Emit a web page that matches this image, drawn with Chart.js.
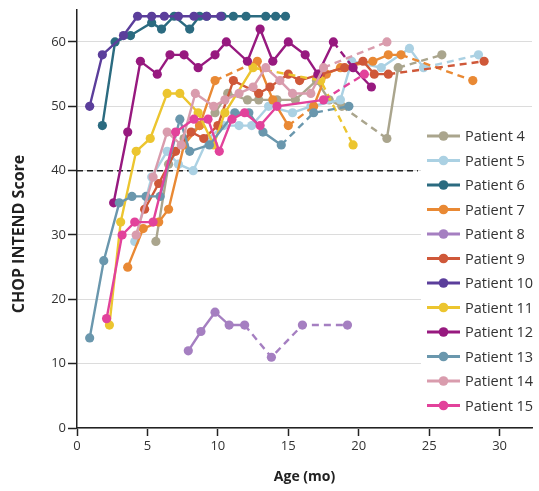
<!DOCTYPE html>
<html>
<head>
<meta charset="utf-8">
<script src="https://cdn.jsdelivr.net/npm/chart.js@4.4.1/dist/chart.umd.min.js"></script>
<style>
  html, body { margin: 0; padding: 0; background: #fff; }
</style>
</head>
<body>
<canvas id="grafico" width="539" height="491"></canvas>
<script>
// ages (months) and CHOP INTEND scores
const p4Age = [5.6, 6.5, 7.6, 8.7, 9.8, 10.7, 12.1, 12.9, 14.2, 15.5, 17.0, 17.9, 18.8, 22.0, 22.8, 25.9];
const p4Score = [29, 41, 45, 47, 49, 52, 51, 51, 51, 51, 54, 51, 50, 45, 56, 58];
const p4Dashed = [12, 14];

const p5Age = [4.1, 5.3, 6.4, 7.2, 8.25, 9.3, 10.4, 11.5, 12.4, 13.6, 15.3, 16.6, 18.7, 19.5, 21.6, 23.6, 24.6, 28.5];
const p5Score = [29, 39, 43, 41, 40, 45, 47, 47, 47, 50, 49, 50, 51, 57, 56, 59, 56, 58];
const p5Dashed = [16];

const p6Age = [1.8, 2.7, 3.8, 5.3, 6.0, 6.9, 8.0, 8.7, 9.2, 10.3, 11.1, 12.0, 13.4, 14.1, 14.8];
const p6Score = [47, 60, 61, 63, 62, 64, 62, 64, 64, 64, 64, 64, 64, 64, 64];
const p6Dashed = [];

const p7Age = [3.6, 4.7, 5.8, 6.5, 7.6, 8.7, 9.8, 12.8, 13.9, 15.0, 16.8, 17.7, 18.7, 21.0, 22.1, 23.0, 28.1];
const p7Score = [25, 31, 32, 34, 44, 47, 54, 57, 51, 47, 50, 55, 56, 57, 58, 58, 54];
const p7Dashed = [6, 9, 15];

const p8Age = [7.9, 8.8, 9.8, 10.8, 11.9, 13.8, 16.0, 19.2];
const p8Score = [12, 15, 18, 16, 16, 11, 16, 16];
const p8Dashed = [4, 5, 6];

const p9Age = [4.8, 5.8, 7.0, 8.1, 9.0, 10.0, 11.1, 12.9, 13.7, 15.0, 15.8, 17.3, 19.0, 20.3, 21.1, 22.1, 28.9];
const p9Score = [34, 38, 43, 46, 45, 47, 54, 52, 53, 55, 54, 55, 56, 57, 55, 55, 57];
const p9Dashed = [15];

const p10Age = [0.9, 1.8, 3.3, 4.3, 5.3, 6.2, 7.2, 8.3, 9.2, 10.2];
const p10Score = [50, 58, 61, 64, 64, 64, 64, 64, 64, 64];
const p10Dashed = [];

const p11Age = [2.3, 3.1, 4.2, 5.2, 6.4, 7.3, 8.6, 9.7, 10.5, 12.5, 17.3, 19.6];
const p11Score = [16, 32, 43, 45, 52, 52, 49, 44, 49, 56, 54, 44];
const p11Dashed = [9, 10];

const p12Age = [2.6, 3.6, 4.5, 5.7, 6.6, 7.6, 8.6, 9.8, 10.6, 12.1, 13.0, 13.9, 15.0, 16.2, 17.1, 18.2, 19.6, 20.9];
const p12Score = [35, 46, 57, 55, 58, 58, 56, 58, 60, 57, 62, 57, 60, 58, 55, 60, 56, 53];
const p12Dashed = [15];

const p13Age = [0.9, 1.9, 3.0, 3.9, 4.9, 5.9, 7.3, 8.0, 9.4, 11.2, 12.2, 13.2, 14.5, 16.8, 19.3];
const p13Score = [14, 26, 35, 36, 36, 36, 48, 43, 44, 49, 49, 46, 44, 49, 50];
const p13Dashed = [12, 13];

const p14Age = [4.2, 5.4, 6.4, 7.4, 8.4, 9.7, 10.5, 11.5, 12.5, 13.4, 14.4, 15.3, 16.6, 17.5, 22.0];
const p14Score = [30, 39, 46, 44, 52, 50, 51, 52, 53, 56, 54, 52, 52, 56, 60];
const p14Dashed = [13];

const p15Age = [2.1, 3.2, 4.1, 5.4, 7.0, 8.3, 9.3, 10.1, 11.0, 11.9, 13.0, 14.2, 17.5, 20.4];
const p15Score = [17, 30, 32, 32, 46, 48, 48, 43, 48, 49, 47, 50, 51, 55];
const p15Dashed = [12];

const patients = ["Patient 4", "Patient 5", "Patient 6", "Patient 7", "Patient 8", "Patient 9",
                  "Patient 10", "Patient 11", "Patient 12", "Patient 13", "Patient 14", "Patient 15"];
const colors = ["#aaa58d", "#abd1e3", "#2b6b80", "#e98934", "#a57fc1", "#cf5839",
                "#5b3e9b", "#ecc52f", "#97197f", "#6a97ad", "#d99cad", "#e2429b"];
const ages = [p4Age, p5Age, p6Age, p7Age, p8Age, p9Age, p10Age, p11Age, p12Age, p13Age, p14Age, p15Age];
const scores = [p4Score, p5Score, p6Score, p7Score, p8Score, p9Score, p10Score, p11Score, p12Score, p13Score, p14Score, p15Score];
const dashed = [p4Dashed, p5Dashed, p6Dashed, p7Dashed, p8Dashed, p9Dashed, p10Dashed, p11Dashed, p12Dashed, p13Dashed, p14Dashed, p15Dashed];

const refScore = 40;
const refAgeEnd = 24.2;

const xTicks = [0, 5, 10, 15, 20, 25, 30];
const yTicks = [0, 10, 20, 30, 40, 50, 60];

const fam = "'Open Sans', 'DejaVu Sans', sans-serif";

const datasets = patients.map(function (name, i) {
    return {
        label: name,
        data: ages[i].map(function (a, j) { return { x: a, y: scores[i][j] }; }),
        borderColor: colors[i],
        backgroundColor: colors[i],
        pointBackgroundColor: colors[i],
        pointBorderWidth: 0,
        pointRadius: 4.6,
        borderWidth: 2.4,
        tension: 0,
        order: patients.length - i,
        segment: {
            borderDash: function (ctx) {
                return dashed[i].includes(ctx.p0DataIndex) ? [7, 5] : undefined;
            },
        },
    };
});

datasets.push({
    label: "ref",
    data: [{ x: 0, y: refScore }, { x: refAgeEnd, y: refScore }],
    borderColor: "#222",
    borderWidth: 1.5,
    borderDash: [6, 4],
    pointRadius: 0,
    order: 100,
});

// legend box and y title drawn on top
const extras = {
    id: "extras",
    afterDraw(chart) {
        const c = chart.ctx;
        c.save();
        c.fillStyle = "#fff";
        c.fillRect(421, 123, 118, 297);
        patients.forEach(function (name, i) {
            const y = 136 + i * 24.5;
            c.strokeStyle = colors[i];
            c.lineWidth = 3;
            c.beginPath();
            c.moveTo(427, y);
            c.lineTo(460, y);
            c.stroke();
            c.fillStyle = colors[i];
            c.beginPath();
            c.arc(443.5, y, 4.8, 0, Math.PI * 2);
            c.fill();
            c.fillStyle = "#333";
            c.font = "14.5px " + fam;
            c.textBaseline = "middle";
            c.textAlign = "left";
            c.fillText(name, 465, y + 1);
        });
        c.translate(19, 234);
        c.rotate(-Math.PI / 2);
        c.fillStyle = "#222";
        c.font = "bold 16px " + fam;
        c.textAlign = "center";
        c.textBaseline = "middle";
        c.fillText("CHOP INTEND Score", 0, 0);
        c.restore();
    },
};

new Chart(document.getElementById("grafico").getContext("2d"), {
    type: "line",
    data: { datasets: datasets },
    options: {
        responsive: false,
        animation: false,
        layout: { padding: { top: 8, right: 7, left: 0, bottom: 0 } },
        plugins: { legend: { display: false }, tooltip: { enabled: false } },
        scales: {
            x: {
                type: "linear",
                min: 0,
                max: 32.3,
                afterBuildTicks: function (s) { s.ticks = xTicks.map(function (v) { return { value: v }; }); },
                afterFit: function (s) { s.height = 63; },
                ticks: { color: "#333", font: { family: fam, size: 13 }, padding: 2, maxRotation: 0 },
                grid: { drawOnChartArea: false, tickLength: 8, tickColor: "#222", tickWidth: 1.5 },
                border: { color: "#222", width: 1.5 },
                title: { display: true, text: "Age (mo)", color: "#222", font: { family: fam, size: 14, weight: "bold" }, padding: { top: 4, bottom: 6 } },
            },
            y: {
                min: 0,
                max: 65,
                afterBuildTicks: function (s) { s.ticks = yTicks.map(function (v) { return { value: v }; }); },
                afterFit: function (s) { s.width = 77; },
                ticks: { color: "#333", font: { family: fam, size: 13 }, padding: 2 },
                grid: { color: "#dcdcdc", lineWidth: 1, tickLength: 9, tickColor: "#222", tickWidth: 1.5 },
                border: { color: "#222", width: 1.5 },
            },
        },
    },
    plugins: [extras],
});
</script>
</body>
</html>
